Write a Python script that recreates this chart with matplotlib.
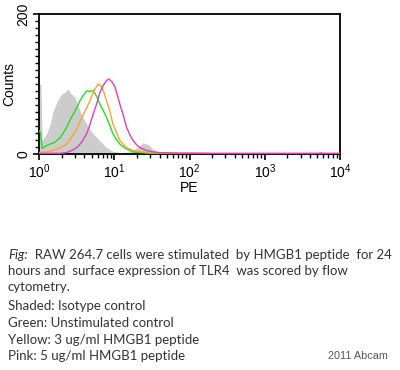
import numpy as np
import matplotlib
matplotlib.use("Agg")
import matplotlib.pyplot as plt
from matplotlib.ticker import LogLocator, FixedLocator, MultipleLocator, NullFormatter

# ---- data (PE intensity, counts) ----
iso_pe = [1.0, 1.06, 1.1, 1.26, 1.4, 1.55, 1.74, 2.0, 2.2, 2.45, 2.66, 2.86, 3.2, 3.5,
          3.85, 4.3, 4.76, 5.25, 6.45, 7.9, 9.5, 12, 16.2, 21, 24, 28, 32, 38, 47, 63]
iso_counts = [100, 100, 20, 29, 42, 62, 75, 86, 88, 93, 86, 84, 74, 62,
              52, 43, 35, 29, 19, 9, 4, 2, 3, 10, 16, 14, 8, 3, 1, 0]

green_pe = [1.0, 1.05, 1.1, 1.14, 1.26, 1.4, 1.63, 1.9, 2.1, 2.33, 2.57, 2.86, 3.17, 3.5,
            3.9, 4.3, 4.76, 5.25, 5.85, 6.45, 7.15, 7.9, 8.8, 9.6, 10.8, 11.9, 14.6,
            17.8, 22, 30, 55, 75, 138]
green_counts = [33, 30, 8, 9, 12, 14, 17, 23, 30, 38, 48, 57, 66, 76,
                84, 90, 89, 91, 82, 71, 62, 52, 40, 29, 20, 14, 7,
                3, 2, 1, 1, 0.5, 0]

yellow_pe = [1.0, 1.26, 1.55, 1.9, 2.33, 2.72, 3.17, 3.5, 3.9, 4.3, 4.76, 5.13, 5.55,
             6.14, 6.8, 7.3, 7.9, 8.8, 9.6, 10.8, 11.9, 14.6, 17.8, 22, 30, 55, 100,
             166, 220, 5100, 5600, 6100, 10000]
yellow_counts = [2, 3, 5, 9, 14, 24, 36, 46, 57, 66, 76, 85, 93,
                 100, 96, 88, 76, 60, 43, 30, 19, 9, 5, 3, 2, 1.5, 1.5,
                 1, 0, 0, 2, 0, 0]

pink_pe = [1.0, 1.9, 2.33, 2.72, 3.17, 3.7, 4.3, 4.76, 5.25, 5.85, 6.45, 7.15, 7.9,
           8.5, 9.35, 10.2, 11.0, 11.9, 13.2, 14.6, 16.2, 17.8, 19.9, 22, 27, 33, 40,
           75, 10000]
pink_counts = [1, 1, 2, 5, 9, 17, 29, 42, 57, 72, 88, 98, 105,
               107, 103, 96, 84, 71, 55, 38, 27, 19, 13, 9, 5, 3, 2,
               1, 1]

x_label = "PE"
y_label = "Counts"
fig_prefix = "Fig:"
caption_first = "  RAW 264.7 cells were stimulated  by HMGB1 peptide  for 24"
caption_lines = [
    ("hours and  surface expression of TLR4  was scored by flow", 271),
    ("cytometry.", 287),
    ("Shaded: Isotype control", 306),
    ("Green: Unstimulated control", 323),
    ("Yellow: 3 ug/ml HMGB1 peptide", 340),
    ("Pink: 5 ug/ml HMGB1 peptide", 356),
]
credit = "2011 Abcam"

W, H = 400, 370
fig = plt.figure(figsize=(W / 100, H / 100), dpi=100)
fig.patch.set_facecolor("white")

ax_l, ax_r, ax_t, ax_b = 39, 340, 14, 154
ax = fig.add_axes([ax_l / W, 1 - ax_b / H, (ax_r - ax_l) / W, (ax_b - ax_t) / H])

ax.fill_between(iso_pe, iso_counts, 0, color="#cccccc", linewidth=0, zorder=1)
ax.plot(green_pe, green_counts, color="#22dd22", lw=1.0, zorder=3)
ax.plot(yellow_pe, yellow_counts, color="#f5a530", lw=1.0, zorder=3)
ax.plot(pink_pe, pink_counts, color="#e33cc0", lw=1.0, zorder=4)

ax.set_xscale("log")
ax.set_xlim(1, 10000)
ax.set_ylim(0, 200)

for s in ax.spines.values():
    s.set_linewidth(1.3)
    s.set_color("black")

ax.xaxis.set_major_locator(LogLocator(base=10, numticks=10))
ax.xaxis.set_minor_locator(LogLocator(base=10, subs=np.arange(2, 10), numticks=20))
ax.xaxis.set_minor_formatter(NullFormatter())
ax.yaxis.set_major_locator(FixedLocator([0, 200]))
ax.yaxis.set_minor_locator(MultipleLocator(10))
ax.tick_params(axis="both", which="major", direction="out", length=4, width=1.2,
               labelsize=10, pad=2)
ax.tick_params(axis="both", which="minor", direction="out", length=3, width=1.0)
ax.tick_params(axis="y", which="major", labelrotation=90, pad=2)
for lab in ax.get_yticklabels():
    lab.set_va("center")
for lab in ax.get_xticklabels() + ax.get_yticklabels():
    lab.set_family("Liberation Sans")

ax.set_xlabel(x_label, fontsize=10, family="Liberation Sans", labelpad=0)
ax.set_ylabel(y_label, fontsize=10, family="Liberation Sans")
ax.yaxis.set_label_coords((16 - ax_l) / (ax_r - ax_l), 0.5)

cap_size = 9.55
cap_color = "#333333"
t0 = fig.text(8 / W, 1 - 255 / H, fig_prefix, fontsize=cap_size, family="Lato",
              style="italic", va="center", ha="left", color=cap_color)
fig.canvas.draw()
bb = t0.get_window_extent()
fig.text(bb.x1 / W, 1 - 255 / H, caption_first, fontsize=cap_size, family="Lato",
         va="center", ha="left", color=cap_color)
for txt, y in caption_lines:
    fig.text(8 / W, 1 - y / H, txt, fontsize=cap_size, family="Lato", va="center",
             ha="left", color=cap_color)
fig.text(388 / W, 1 - 356 / H, credit, fontsize=7.8, family="Liberation Sans",
         va="center", ha="right", color="#555555")

fig.savefig("out.png", dpi=100, facecolor="white")
